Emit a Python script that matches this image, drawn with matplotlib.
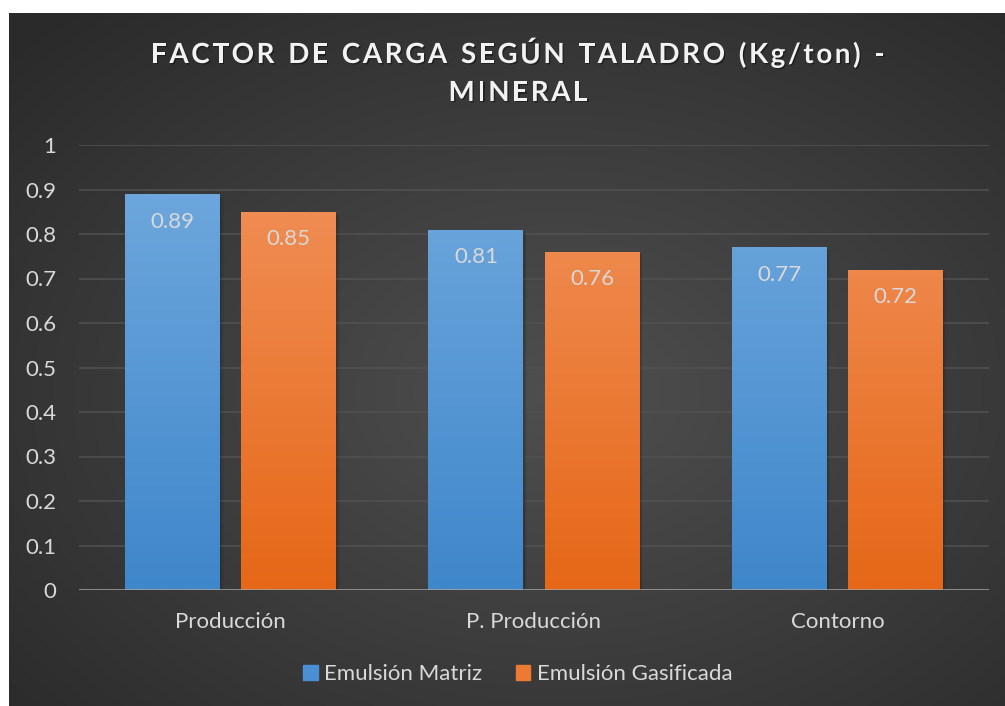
import numpy as np
import matplotlib
matplotlib.use("Agg")
import matplotlib.pyplot as plt
from matplotlib.colors import LinearSegmentedColormap
from matplotlib.patches import Rectangle
import matplotlib.patheffects as pe

categories = ["Producción", "P. Producción", "Contorno"]
series_names = ["Emulsión Matriz", "Emulsión Gasificada"]
matriz = [0.89, 0.81, 0.77]
gasificada = [0.85, 0.76, 0.72]
y_ticks = [0, 0.1, 0.2, 0.3, 0.4, 0.5, 0.6, 0.7, 0.8, 0.9, 1]
y_tick_labels = ["0", "0.1", "0.2", "0.3", "0.4", "0.5", "0.6", "0.7", "0.8", "0.9", "1"]
title_lines = ["FACTOR DE CARGA SEGÚN TALADRO (Kg/ton) -", "MINERAL"]

plt.rcParams["font.family"] = ["Lato", "DejaVu Sans"]

W, H = 1005, 706
fig = plt.figure(figsize=(W / 100, H / 100), dpi=100)
fig.patch.set_facecolor("white")

# dark radial-gradient chart background
bg = fig.add_axes([9 / W, 0, 1 - 9 / W, 693 / H])
bg.set_axis_off()
yy, xx = np.mgrid[0:1:300j, 0:1:430j]
r = np.sqrt(((xx - 0.55) / 0.75) ** 2 + ((yy - 0.45) / 0.75) ** 2)
r = np.clip(r, 0, 1)
bg_cmap = LinearSegmentedColormap.from_list("bg", ["#4f4f4f", "#2a2a2a"])
bg.imshow(r, cmap=bg_cmap, aspect="auto", extent=[0, 1, 0, 1], origin="lower")
bg.set_xlim(0, 1)
bg.set_ylim(0, 1)

ax = fig.add_axes([79 / W, 116 / H, 910 / W, 445 / H])
ax.patch.set_alpha(0)
x = np.arange(len(categories))
bw = 0.313
off = bw / 2 + 0.035

for yv in y_ticks[1:]:
    ax.axhline(yv, color="#525252", lw=1.1, zorder=0)
ax.axhline(0, color="#a6a6a6", lw=1.8, zorder=4)

blue_cmap = LinearSegmentedColormap.from_list("b", ["#3f87cb", "#72aade"])
orange_cmap = LinearSegmentedColormap.from_list("o", ["#e66717", "#f1935d"])
grad = np.linspace(0, 1, 256).reshape(-1, 1)

def gradient_bars(xs, vals, cmap, name):
    bars = ax.bar(xs, vals, bw, color="none", edgecolor="none", zorder=2, label=name)
    for b, v in zip(bars, vals):
        x0 = b.get_x()
        # soft shadow on the right side
        for k, a in enumerate([0.10, 0.07, 0.04]):
            ax.add_patch(Rectangle((x0 + 0.004 * (k + 1), 0), bw, v - 0.003 * (k + 1),
                                   color="black", alpha=a, lw=0, zorder=1.5))
        im = ax.imshow(grad * v, cmap=cmap, aspect="auto",
                       extent=[x0, x0 + bw, 0, v], origin="lower", zorder=3,
                       vmin=0, vmax=1)
        im.set_clip_path(b)
        ax.text(x0 + bw / 2, v - 0.062, f"{v:.2f}", ha="center", va="center",
                color="#d9d9d9", fontsize=16, zorder=5)
    return bars

gradient_bars(x - off, matriz, blue_cmap, series_names[0])
gradient_bars(x + off, gasificada, orange_cmap, series_names[1])
ax.set_xlim(-0.5, len(categories) - 0.5)
ax.set_ylim(0, 1)

ax.set_yticks(y_ticks)
ax.set_yticklabels(y_tick_labels)
ax.set_xticks(x)
ax.set_xticklabels(categories)
ax.tick_params(axis="y", length=0, pad=16.5, labelsize=16, labelcolor="#d9d9d9")
ax.tick_params(axis="x", length=0, pad=16, labelsize=16, labelcolor="#d9d9d9")
for s in ax.spines.values():
    s.set_visible(False)

# letter-spaced bold title, drawn character by character
renderer = fig.canvas.get_renderer()
title_size = 20
title_kw = dict(color="#f2f2f2", fontsize=title_size, fontweight="bold", va="center", ha="left",
                path_effects=[pe.withSimplePatchShadow(offset=(1, -1), shadow_rgbFace="black", alpha=0.4)])
spacing = 2.6
cx = 518
for line, ypix in zip(title_lines, [55, 93]):
    widths = []
    for ch in line:
        t = fig.text(0, 0, ch if ch != " " else "n", fontsize=title_size, fontweight="bold")
        w = t.get_window_extent(renderer).width
        if ch == " ":
            w *= 0.55
        widths.append(w)
        t.remove()
    total = sum(widths) + spacing * (len(line) - 1)
    xp = cx - total / 2
    for ch, w in zip(line, widths):
        if ch != " ":
            fig.text(xp / W, 1 - ypix / H, ch, **title_kw)
        xp += w + spacing

handles = [Rectangle((0, 0), 1, 1, color="#4a8fd3"), Rectangle((0, 0), 1, 1, color="#ec7a33")]
leg = fig.legend(handles, series_names, loc="center", bbox_to_anchor=(518 / W, 1 - 674 / H),
                 ncol=2, frameon=False, fontsize=16, labelcolor="#d9d9d9",
                 handlelength=0.65, handleheight=0.65, handletextpad=0.3, columnspacing=1.5)

fig.savefig("out.png", dpi=100, facecolor=fig.get_facecolor())
